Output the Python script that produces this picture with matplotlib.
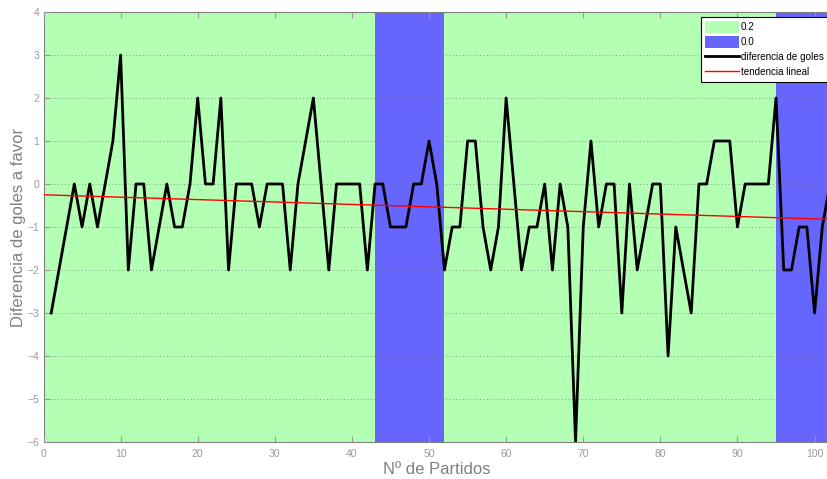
import numpy as np
import matplotlib
matplotlib.use("Agg")
import matplotlib.pyplot as plt
from matplotlib.patches import Patch
from matplotlib.lines import Line2D

plt.rcParams['font.family'] = ['Liberation Sans', 'DejaVu Sans']

partidos = list(range(1, 103))
diferencia = [-3, -2, -1, 0, -1, 0, -1, 0, 1, 3,
              -2, 0, 0, -2, -1, 0, -1, -1, 0, 2,
              0, 0, 2, -2, 0, 0, 0, -1, 0, 0,
              0, -2, 0, 1, 2, 0, -2, 0, 0, 0,
              0, -2, 0, 0, -1, -1, -1, 0, 0, 1,
              0, -2, -1, -1, 1, 1, -1, -2, -1, 2,
              0, -2, -1, -1, 0, -2, 0, -1, -6, -1,
              1, -1, 0, 0, -3, 0, -2, -1, 0, 0,
              -4, -1, -2, -3, 0, 0, 1, 1, 1, -1,
              0, 0, 0, 0, 2, -2, -2, -1, -1, -3,
              -1, 0]
tramos_verde = [(0, 43), (52, 95)]
tramos_azul = [(43, 52), (95, 103)]
etiquetas_leyenda = ['0.2', '0.0', 'diferencia de goles', 'tendencia lineal']

verde = '#B3FFB3'
azul = '#6666FF'
gris = '#808080'

fig = plt.figure(figsize=(8.27, 4.79), dpi=100)
ax = fig.add_axes([43.5 / 827, 37 / 479, 786.5 / 827, 430 / 479])

for a, b in tramos_verde:
    ax.axvspan(a, b, color=verde, lw=0, zorder=0)
for a, b in tramos_azul:
    ax.axvspan(a, b, color=azul, lw=0, zorder=0)

x = np.array(partidos, dtype=float)
y = np.array(diferencia, dtype=float)
ax.plot(x, y, color='black', lw=2, zorder=3)
p = np.polyfit(x, y, 1)
xt = np.linspace(0, 102, 200)
ax.plot(xt, np.polyval(p, xt), color='red', lw=1, zorder=4)

ax.set_xlim(0, 102)
ax.set_ylim(-6, 4)
ax.set_xticks(range(0, 101, 10))
ax.set_yticks(range(-6, 5, 1))
ax.grid(True, axis='y', color='#777777', linestyle=(0, (1, 2.5)), lw=0.7, alpha=0.7)
ax.set_axisbelow(False)
ax.tick_params(direction='in', colors='#9a9a9a', labelsize=7.5, length=4, width=0.8,
               top=True, right=False)
ax.tick_params(axis='x', pad=5)
ax.tick_params(axis='y', pad=3)
for s in ax.spines.values():
    s.set_color(gris)
ax.set_xlabel('Nº de Partidos', color=gris, fontsize=12, labelpad=2)
ax.set_ylabel('Diferencia de goles a favor', color=gris, fontsize=12, labelpad=1)

handles = [Patch(facecolor=verde, edgecolor='none'),
           Patch(facecolor=azul, edgecolor='none'),
           Line2D([], [], color='black', lw=2),
           Line2D([], [], color='red', lw=1)]
leg = ax.legend(handles, etiquetas_leyenda, loc='upper left',
                bbox_to_anchor=(701 / 827, 1 - 17 / 479),
                bbox_transform=fig.transFigure, fontsize=7.1, frameon=True,
                fancybox=False, edgecolor='black', framealpha=1,
                handlelength=3.4, handleheight=1.35, handletextpad=0.2,
                labelspacing=0.4, borderpad=0.45, borderaxespad=0)
leg.get_frame().set_linewidth(0.8)
leg.set_zorder(10)

fig.savefig('out.png', dpi=100)
